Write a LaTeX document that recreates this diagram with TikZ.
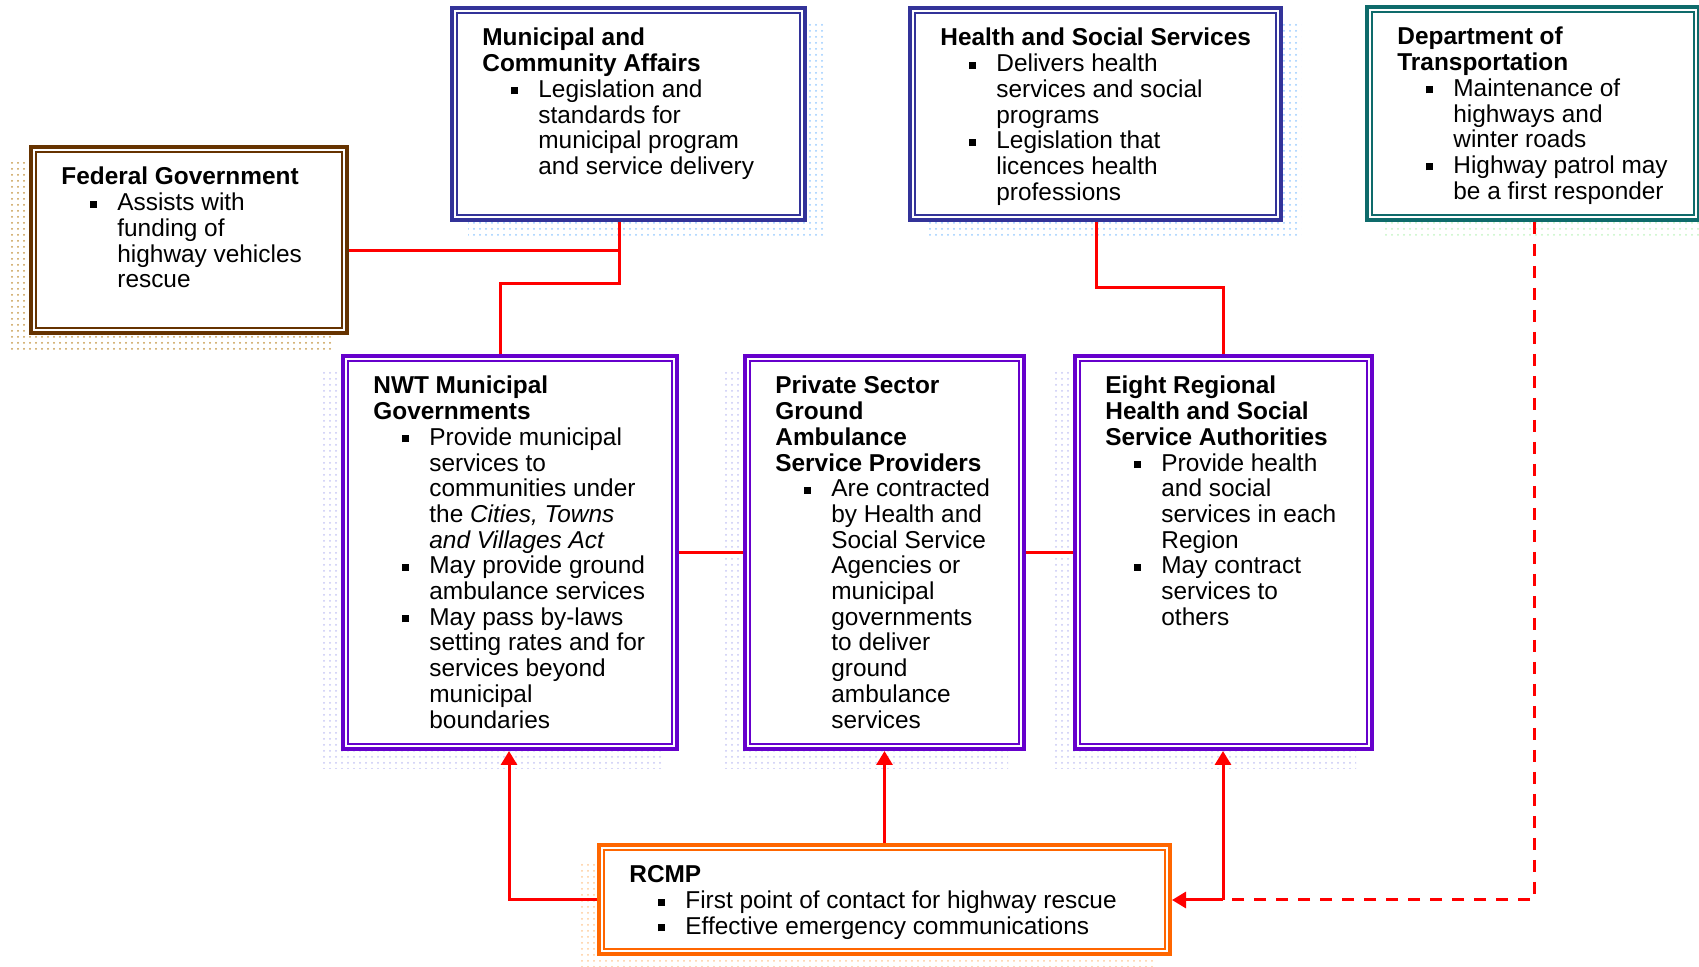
\documentclass[tikz,border=0pt]{standalone}
\usepackage{fontspec}
\setmainfont{Liberation Sans}
\usetikzlibrary{patterns,arrows.meta}
\definecolor{cbrown}{HTML}{663300}
\definecolor{cbrownsh}{HTML}{C89B4B}
\definecolor{cnavy}{HTML}{333399}
\definecolor{cnavysh}{HTML}{99CCFF}
\definecolor{cteal}{HTML}{0E6B6B}
\definecolor{ctealsh}{HTML}{C4F5C4}
\definecolor{cviolet}{HTML}{6600CC}
\definecolor{cvioletsh}{HTML}{C8C8F5}
\definecolor{corange}{HTML}{FF6600}
\definecolor{corangesh}{HTML}{FFCC99}
\newcommand\mkbox[8]{%
  \fill[pattern=dots, pattern color=#3] ({#5+(#4)},{#6+18}) rectangle ({#7+(#4)},{#8+18});
  \pgfmathsetmacro\bw{(#7-#5-4)*0.5}%
  \pgfmathsetmacro\bh{(#8-#6-4)*0.5}%
  \node[orgbox, draw=#2, minimum width=\bw pt, minimum height=\bh pt] (#1) at ({(#5+#7)/2},{(#6+#8)/2}) {};
  \draw[#2, line width=1pt] ([shift={(7,7)}]#1.north west) rectangle ([shift={(-7,-7)}]#1.south east);
}
\newcommand\hd[1]{\textbf{#1}\par}
\newcommand\bl[1]{{\let\\\newline\hangindent=28pt\hangafter=1\noindent\hspace*{14.5pt}\makebox[13.5pt][l]{\raisebox{1.5pt}{\rule{3.5pt}{3.5pt}}}#1\par}}
\newcommand\btext[1]{\parbox[t]{300pt}{\raggedright\parindent=0pt #1}}
\begin{document}
\begin{tikzpicture}[x=0.5pt,y=-0.5pt,
  conn/.style={draw=red, line width=1.5pt},
  arr/.style={conn, -{Triangle[width=8pt,length=7pt]}},
  dashconn/.style={conn, dash pattern=on 6pt off 5pt},
  orgbox/.style={rectangle, line width=2pt, fill=white, inner sep=0pt, outer sep=1pt},
  txt/.style={anchor=base west, inner sep=0pt, text=black, font=\fontsize{12.2}{12.85}\selectfont}]
\useasboundingbox (0,0) rectangle (1699,967);
\fill[white] (0,0) rectangle (1699,967);

\mkbox{fed}{cbrown}{cbrownsh}{-18}{29}{145}{349}{335}
\mkbox{mca}{cnavy}{cnavysh}{18}{450}{6}{807}{222}
\mkbox{hss}{cnavy}{cnavysh}{18}{908}{6}{1283}{222}
\mkbox{dot}{cteal}{ctealsh}{18}{1365}{5}{1701}{222}
\mkbox{nwt}{cviolet}{cvioletsh}{-18}{341}{354}{679}{751}
\mkbox{psp}{cviolet}{cvioletsh}{-18}{743}{354}{1026}{751}
\mkbox{eight}{cviolet}{cvioletsh}{-18}{1073}{354}{1374}{751}
\mkbox{rcmp}{corange}{corangesh}{-18}{597}{843}{1172}{956}

\node[txt] (fedt) at (61,185) {\btext{\hd{Federal Government}\bl{Assists with\\funding of\\highway vehicles\\rescue}}};
\node[txt] (mcat) at (482,46) {\btext{\hd{Municipal and\\Community Affairs}\bl{Legislation and\\standards for\\municipal program\\and service delivery}}};
\node[txt] (hsst) at (940,46) {\btext{\hd{Health and Social Services}\bl{Delivers health\\services and social\\programs}\bl{Legislation that\\licences health\\professions}}};
\node[txt] (dott) at (1397,45) {\btext{\hd{Department of\\Transportation}\bl{Maintenance of\\highways and\\winter roads}\bl{Highway patrol may\\be a first responder}}};
\node[txt] (nwtt) at (373,394) {\btext{\hd{NWT Municipal\\Governments}\bl{Provide municipal\\services to\\communities under\\the \textit{Cities, Towns}\\\textit{and Villages Act}}\bl{May provide ground\\ambulance services}\bl{May pass by-laws\\setting rates and for\\services beyond\\municipal\\boundaries}}};
\node[txt] (pspt) at (775,394) {\btext{\hd{Private Sector\\Ground\\Ambulance\\Service Providers}\bl{Are contracted\\by Health and\\Social Service\\Agencies or\\municipal\\governments\\to deliver\\ground\\ambulance\\services}}};
\node[txt] (eightt) at (1105,394) {\btext{\hd{Eight Regional\\Health and Social\\Service Authorities}\bl{Provide health\\and social\\services in each\\Region}\bl{May contract\\services to\\others}}};
\node[txt] (rcmpt) at (629,883) {\btext{\hd{RCMP}\bl{First point of contact for highway rescue}\bl{Effective emergency communications}}};

\coordinate (cA) at (619,251);
\coordinate (cB) at (619,284);
\coordinate (cC) at (500,284);
\coordinate (cD) at (1096,288);
\coordinate (cE) at (1223,288);
\coordinate (cF) at (509,900);
\coordinate (cG) at (1223,900);
\coordinate (cH) at (1534,900);

\draw[conn] (fed.east |- cA) -- (cA);
\draw[conn] (mca.south -| cA) -- (cB) -- (cC) -- (nwt.north -| cC);
\draw[conn] (hss.south -| cD) -- (cD) -- (cE) -- (eight.north -| cE);
\draw[conn] (nwt.east) -- (psp.west);
\draw[conn] (psp.east) -- (eight.west);
\draw[dashconn] (dot.south -| cH) -- (cH) -- (cG);
\draw[arr] (rcmp.west |- cF) -- (cF) -- (nwt.south -| cF);
\draw[arr] (rcmp.north) -- (psp.south);
\draw[arr] (cG) -- (eight.south -| cG);
\draw[arr] (cG) -- (rcmp.east |- cG);
\end{tikzpicture}
\end{document}
